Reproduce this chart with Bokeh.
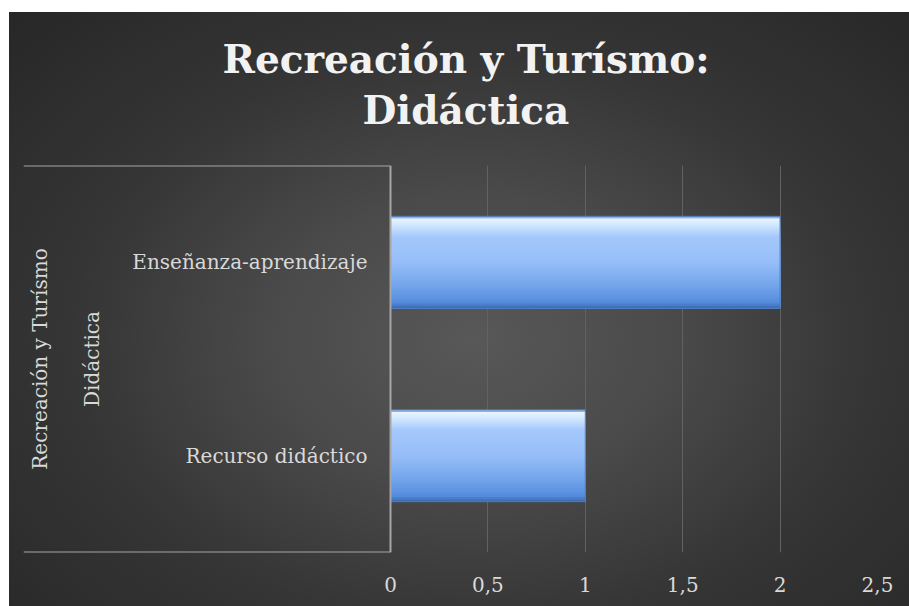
from bokeh.plotting import figure
from bokeh.models import (ColumnDataSource, FactorRange, Range1d, FixedTicker, Span, Title)
from bokeh.transform import dodge
from bokeh.core.properties import value
from bokeh.embed import file_html
from bokeh.resources import INLINE

# ---- data ----
group = "Recreación y Turísmo"
subgroup = "Didáctica"
categories = ["Recurso didáctico", "Enseñanza-aprendizaje"]
values = [1, 2]
tick_values = [0, 0.5, 1, 1.5, 2, 2.5]
tick_labels = ["0", "0,5", "1", "1,5", "2", "2,5"]
title_lines = ["Recreación y Turísmo:", "Didáctica"]

factors = [(group, subgroup, c) for c in categories]

FONT = "DejaVu Serif"
W, H = 909, 606
X_LEFT = -1.884
p = figure(width=W, height=H, output_backend="svg", toolbar_location=None,
           y_range=FactorRange(*factors, range_padding=0, group_padding=0, subgroup_padding=0),
           x_range=Range1d(X_LEFT, 2.5),
           min_border_left=23, min_border_right=32, min_border_top=165, min_border_bottom=54)
p.styles = {"background": "linear-gradient(#ffffff,#ffffff) 0 0/100% 12px no-repeat, "
                          "linear-gradient(#ffffff,#ffffff) 0 0/9px 100% no-repeat, "
                          "radial-gradient(ellipse farthest-corner at 52% 56%, #585858 0%, #4a4a4a 30%, #353535 60%, #262626 100%)"}
p.border_fill_color = None
p.background_fill_color = None
p.outline_line_color = None

p.yaxis.visible = False
p.ygrid.grid_line_color = None
p.xgrid.ticker = FixedTicker(ticks=tick_values[1:])
p.xgrid.grid_line_color = "#626262"
p.xgrid.grid_line_width = 1

ax = p.xaxis[0]
ax.ticker = FixedTicker(ticks=tick_values)
ax.major_label_overrides = {v: l for v, l in zip(tick_values, tick_labels)}
ax.axis_line_color = None
ax.major_tick_line_color = None
ax.minor_tick_line_color = None
ax.major_label_standoff = 18
ax.major_label_text_font = FONT
ax.major_label_text_font_size = "20px"
ax.major_label_text_color = "#d9d9d9"

# ---- bars (vertical colour gradient by overlapping bands) ----
src = ColumnDataSource(dict(y=factors, v=values))
bar_h = 0.475
stops = [(0.0, (0x5a, 0x86, 0xc8)), (0.03, (0xe6, 0xf5, 0xff)), (0.12, (0xc8, 0xe2, 0xff)),
         (0.22, (0xa4, 0xc8, 0xfc)), (0.5, (0x96, 0xbe, 0xf8)), (0.78, (0x6f, 0xa2, 0xea)),
         (0.94, (0x55, 0x8b, 0xdb)), (1.0, (0x3a, 0x68, 0xae))]

def col(t):
    for (t0, c0), (t1, c1) in zip(stops[:-1], stops[1:]):
        if t0 <= t <= t1:
            f = (t - t0) / (t1 - t0) if t1 > t0 else 0
            return "#%02x%02x%02x" % tuple(int(round(a + (b - a) * f)) for a, b in zip(c0, c1))
    return "#%02x%02x%02x" % stops[-1][1]

N = 40
sh = bar_h / N
for i in range(N):
    t = (i + 0.5) / N  # 0 = top, 1 = bottom
    top = bar_h / 2 - i * sh
    hgt = top + bar_h / 2
    p.hbar(y=dodge("y", top - hgt / 2, range=p.y_range), right="v", left=0, height=hgt,
           source=src, fill_color=col(t), line_color=None)
p.hbar(y="y", right="v", left=0, height=bar_h, source=src, fill_color=None,
       line_color="#4a78bb", line_width=1)

# ---- axis line at zero ----
p.add_layout(Span(location=0, dimension="height", line_color="#a6a6a6", line_width=2))

# ---- category box lines ----
p.segment(x0=X_LEFT, x1=0, y0=dodge("y", -0.5, range=p.y_range), y1=dodge("y", -0.5, range=p.y_range),
          source=ColumnDataSource(dict(y=[factors[0]])), line_color="#a6a6a6", line_width=2)
p.segment(x0=X_LEFT, x1=0, y0=dodge("y", 0.5, range=p.y_range), y1=dodge("y", 0.5, range=p.y_range),
          source=ColumnDataSource(dict(y=[factors[-1]])), line_color="#a6a6a6", line_width=2)

# ---- category labels ----
p.text(x=-0.118, y="y", text="t", source=ColumnDataSource(dict(y=factors, t=categories)),
       text_align="right", text_baseline="middle", text_font=value(FONT),
       text_font_size="20px", text_color="#d9d9d9")
p.text(x=-1.53, y="y", text="t", source=ColumnDataSource(dict(y=[[group, subgroup]], t=[subgroup])),
       angle=1.5707963, text_align="center", text_baseline="middle", text_font=value(FONT),
       text_font_size="20px", text_color="#d9d9d9")
p.text(x=-1.797, y="y", text="t", source=ColumnDataSource(dict(y=[group], t=[group])),
       angle=1.5707963, text_align="center", text_baseline="middle", text_font=value(FONT),
       text_font_size="20px", text_color="#d9d9d9")

# ---- title (two lines, nearest to frame added first) ----
p.add_layout(Title(text=title_lines[1], align="left", offset=339, standoff=66,
                   text_font=FONT, text_font_style="bold", text_font_size="39px",
                   text_color="#f2f2f2"), "above")
p.add_layout(Title(text=title_lines[0], align="left", offset=199, standoff=-60,
                   text_font=FONT, text_font_style="bold", text_font_size="39px",
                   text_color="#f2f2f2"), "above")

open("out.html", "w").write(file_html(p, INLINE))
